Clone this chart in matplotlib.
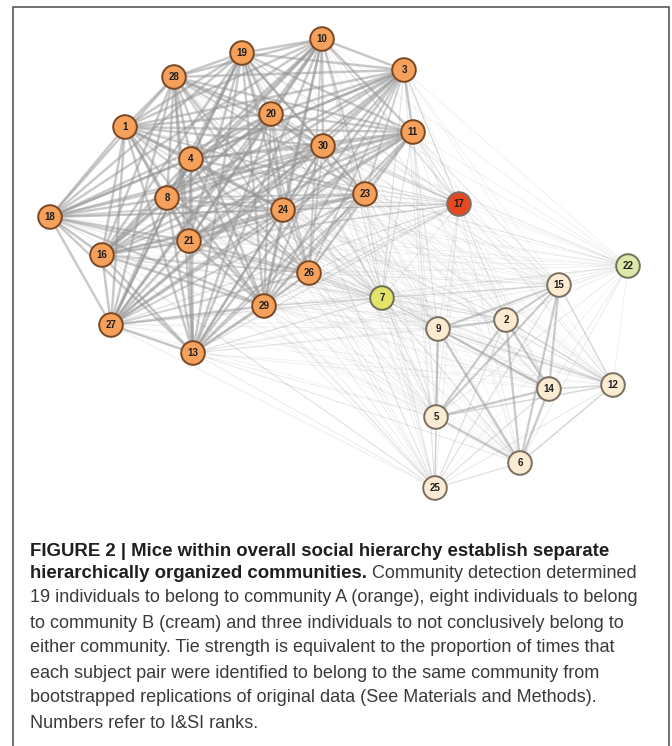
import numpy as np
import matplotlib
matplotlib.use("Agg")
import matplotlib.pyplot as plt
from matplotlib.collections import LineCollection
from matplotlib.patches import Circle

# ---- network data -------------------------------------------------------
# I&SI rank of each mouse
ranks = [10, 19, 3, 28, 20, 1, 11, 30, 4, 23, 8, 17, 18, 24, 21, 16, 26,
         22, 15, 7, 29, 2, 9, 27, 13, 14, 12, 5, 6, 25]
# layout coordinates of each mouse
layout_x = [322, 242, 404, 174, 271, 125, 413, 323, 191, 365, 167, 459, 50,
            283, 189, 102, 309, 628, 559, 382, 264, 506, 438, 111, 193, 549,
            613, 436, 520, 435]
layout_y = [39, 53, 70, 77, 114, 127, 132, 146, 159, 194, 198, 204, 217,
            210, 241, 255, 273, 266, 285, 298, 306, 320, 329, 325, 353, 389,
            385, 417, 463, 488]
# community label: A, B, or unassigned (colour class)
community = ["A", "A", "A", "A", "A", "A", "A", "A", "A", "A", "A", "X17",
             "A", "A", "A", "A", "A", "X22", "B", "X7", "A", "B", "B", "A",
             "A", "B", "B", "B", "B", "B"]
# share of bootstrap replicates placing each mouse in community A / B
share_A = [0.90, 0.90, 0.90, 0.90, 0.90, 0.90, 0.85, 0.85, 0.92, 0.72, 0.90,
           0.38, 0.88, 0.88, 0.92, 0.90, 0.70, 0.15, 0.10, 0.35, 0.85, 0.08,
           0.12, 0.90, 0.88, 0.06, 0.10, 0.10, 0.06, 0.18]
share_B = [0.03, 0.03, 0.04, 0.03, 0.03, 0.03, 0.08, 0.06, 0.03, 0.12, 0.04,
           0.18, 0.03, 0.06, 0.03, 0.03, 0.18, 0.22, 0.82, 0.35, 0.08, 0.85,
           0.85, 0.04, 0.10, 0.88, 0.55, 0.85, 0.88, 0.38]

caption_bold_1 = "FIGURE 2 | Mice within overall social hierarchy establish separate"
caption_bold_2 = "hierarchically organized communities."
caption_rest_2 = " Community detection determined"
caption_lines = [
    "19 individuals to belong to community A (orange), eight individuals to belong",
    "to community B (cream) and three individuals to not conclusively belong to",
    "either community. Tie strength is equivalent to the proportion of times that",
    "each subject pair were identified to belong to the same community from",
    "bootstrapped replications of original data (See Materials and Methods).",
    "Numbers refer to I&SI ranks.",
]

# ---- styling ------------------------------------------------------------
fill = {"A": "#F5A05B", "B": "#FCEBD3", "X17": "#E8481F", "X7": "#E2E46A",
        "X22": "#DCE7A9"}
edge = {"A": "#7A4722", "B": "#7A6E5E", "X17": "#7C6E62", "X7": "#6E6E52",
        "X22": "#727258"}

W, H = 672, 746
fig = plt.figure(figsize=(W / 100, H / 100), dpi=100)
ax = fig.add_axes([0, 0, 1, 1])
ax.set_xlim(0, W)
ax.set_ylim(H, 0)
ax.axis("off")

# frame around figure panel (open at the bottom)
ax.plot([13, 13, 669, 669], [H + 5, 7, 7, H + 5], color="#4a4a4a", lw=1.1,
        solid_joinstyle="miter", zorder=0)

# tie strength = probability two mice fall in the same community
pa = np.array(share_A)
pb = np.array(share_B)
tie = np.outer(pa, pa) + np.outer(pb, pb)
n = len(ranks)
pairs = [(i, j, tie[i, j]) for i in range(n) for j in range(i + 1, n)]
pairs.sort(key=lambda t: t[2])
segs, widths, colors = [], [], []
for i, j, w in pairs:
    segs.append([(layout_x[i], layout_y[i]), (layout_x[j], layout_y[j])])
    widths.append((0.3 + 2.7 * w) * 0.72)
    colors.append((0.58, 0.58, 0.58, 0.12 + 0.48 * w))
ax.add_collection(LineCollection(segs, linewidths=widths, colors=colors,
                                 capstyle="round", zorder=1))

for k in range(n):
    c = community[k]
    ax.add_patch(Circle((layout_x[k], layout_y[k]), 11.8, facecolor=fill[c],
                        edgecolor=edge[c], lw=1.4, zorder=3))
    ax.text(layout_x[k], layout_y[k] + 0.3, str(ranks[k]), ha="center",
            va="center", fontsize=7.0, fontweight="bold", color="#1e1e1e",
            family="Liberation Sans", zorder=4)

# ---- caption ------------------------------------------------------------
renderer = fig.canvas.get_renderer()


def fitted_size(txt, weight, target_px, base=10.0):
    t = ax.text(0, 0, txt, fontsize=base, fontweight=weight,
                family="Liberation Sans")
    wpx = t.get_window_extent(renderer).width
    t.remove()
    return base * target_px / wpx


bold_size = fitted_size(caption_bold_1, "bold", 581)
reg_size = fitted_size(caption_lines[0], "normal", 609)

x0 = 30
y_lines = [551, 574, 598, 623, 648, 673, 698, 723]
ax.text(x0, y_lines[0], caption_bold_1, fontsize=bold_size, fontweight="bold",
        color="#1f1f1f", va="center", ha="left", family="Liberation Sans")
tb = ax.text(x0, y_lines[1], caption_bold_2, fontsize=bold_size,
             fontweight="bold", color="#1f1f1f", va="center", ha="left",
             family="Liberation Sans")
bw = tb.get_window_extent(renderer).width
ax.text(x0 + bw, y_lines[1], caption_rest_2, fontsize=reg_size,
        color="#3a3a3a", va="center", ha="left", family="Liberation Sans")
for k, line in enumerate(caption_lines):
    ax.text(x0, y_lines[k + 2], line, fontsize=reg_size, color="#3a3a3a",
            va="center", ha="left", family="Liberation Sans")

fig.savefig("out.png", dpi=100)
